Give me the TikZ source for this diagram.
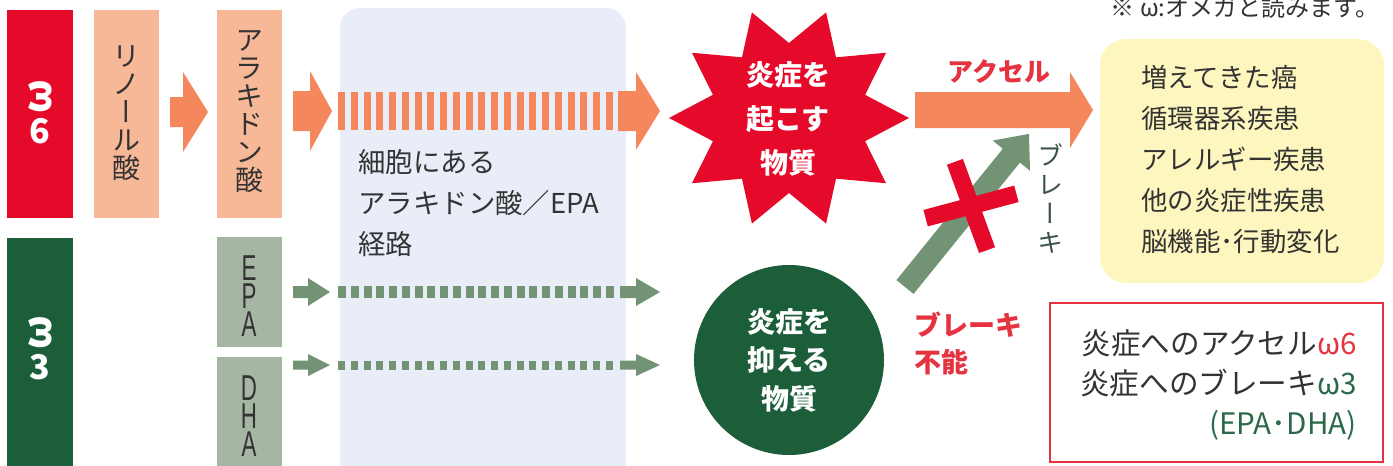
\documentclass[tikz,border=0pt]{standalone}
\usepackage{fontspec}
\setmainfont{Noto Sans CJK JP}
\newfontfamily\jpv[RawFeature=+vert]{Noto Sans CJK JP}
\newfontfamily\condsans[FakeStretch=0.62]{Liberation Sans}
\usetikzlibrary{shapes.geometric}
\definecolor{wred}{HTML}{E60A2A}
\definecolor{salmon}{HTML}{F7B898}
\definecolor{oarrow}{HTML}{F5875C}
\definecolor{dgreen}{HTML}{1D5E3A}
\definecolor{ggreen}{HTML}{A5B6A2}
\definecolor{garrow}{HTML}{729474}
\definecolor{lblue}{HTML}{E9EDF8}
\definecolor{pyellow}{HTML}{FDF7BF}
\definecolor{boxred}{HTML}{E5333F}
\definecolor{txt}{HTML}{333333}
\definecolor{tgreen}{HTML}{2B6A48}
\definecolor{vgreen}{HTML}{3C5446}
\newcommand\blockarrow[7]{%
  \fill[#1] (#2,{#5-#6}) -- (#3,{#5-#6}) -- (#3,{#5-#7}) -- (#4,#5) -- (#3,{#5+#7}) -- (#3,{#5+#6}) -- (#2,{#5+#6}) -- cycle;}
\newcommand\stripes[4]{%
  \foreach \i in {0,...,21} \fill[#1] ({338+\i*12.76},{#2-#3}) rectangle ++(#4,{2*#3});}
\tikzset{
  vtext/.style={text=txt, align=center, font=\jpv\fontsize{14}{14}\selectfont, inner sep=0pt},
  wbold/.style={text=white, align=center, inner sep=0pt},
  body/.style={text=txt, inner sep=0pt},
  letter/.style={text=txt, inner sep=0pt, font=\condsans\fontsize{18}{18}\selectfont},
}
\begin{document}
\begin{tikzpicture}[x=0.5pt,y=-0.5pt]
\useasboundingbox (0,0) rectangle (1393,466);
\clip (0,0) rectangle (1393,466);
% top note
\node[body, font=\fontsize{12}{12}\selectfont] (note) at (1245,7) {※ ω:オメガと読みます。};
% left bars
\fill[wred] (7,10) rectangle (73,218);
\fill[dgreen] (7,238) rectangle (73,480);
\node[wbold, font=\bfseries\fontsize{17}{17.5}\selectfont] (w6) at (40,112) {\rotatebox[origin=c]{90}{\scalebox{1.15}{ω}}\\6};
\node[wbold, font=\bfseries\fontsize{17}{17.5}\selectfont] (w3) at (40,348) {\rotatebox[origin=c]{90}{\scalebox{1.15}{ω}}\\3};
% acid boxes
\fill[salmon] (94,10) rectangle (159,218);
\fill[salmon] (217,10) rectangle (282,218);
\fill[ggreen] (217,237) rectangle (282,347);
\fill[ggreen] (217,357) rectangle (282,480);
\node[vtext] (la) at (126,113) {リ\\ノ\\ー\\ル\\酸};
\node[vtext] (aa) at (249,112) {ア\\ラ\\キ\\ド\\ン\\酸};
\node[letter] (epa1) at (249,268) {E};
\node[letter] (epa2) at (249,296) {P};
\node[letter] (epa3) at (249,324) {A};
\node[letter] (dha1) at (249,388) {D};
\node[letter] (dha2) at (249,416) {H};
\node[letter] (dha3) at (249,444) {A};
% arrow la -> aa
\blockarrow{oarrow}{170}{183}{208}{112}{15}{40}
% pathway box
\fill[lblue, rounded corners=10pt] (340,8) rectangle (626,490);
\node[body, anchor=west, align=left, font=\fontsize{13.7}{20.3}\selectfont] (path) at (358,203) {細胞にある\\アラキドン酸／EPA\\経路};
% omega6 arrow
\blockarrow{oarrow}{293}{310}{332}{111}{20}{40}
\stripes{oarrow}{111}{19}{7}
\blockarrow{oarrow}{618}{636}{660}{111}{20}{39}
% EPA arrow
\blockarrow{garrow}{293}{308}{330}{292}{6}{14}
\stripes{garrow}{292}{6}{8}
\blockarrow{garrow}{620}{636}{660}{292}{6}{14}
% DHA arrow
\blockarrow{garrow}{293}{308}{330}{365}{4.5}{11}
\stripes{garrow}{365}{4.5}{7}
\blockarrow{garrow}{620}{636}{660}{365}{4.5}{11}
% star
\fill[wred] (909,118) \foreach \k in {1,...,19} { -- ({789+(100+20*cos(\k*180))*cos(\k*18)},{118-(93+18*cos(\k*180))*sin(\k*18)}) } -- cycle;
\node[wbold, font=\bfseries\fontsize{14}{22}\selectfont] (inf) at (788,119) {炎症を\\起こす\\物質};
% circle
\node[circle, fill=dgreen, minimum size=95pt, inner sep=0pt, text=white, align=center, font=\bfseries\fontsize{14}{19.25}\selectfont] (sup) at (789,360) {炎症を\\抑える\\物質};
% accel arrow
\blockarrow{oarrow}{915}{1070}{1093}{110}{18}{38}
\node[text=boxred, inner sep=0pt, font=\bfseries\fontsize{13}{13}\selectfont] (acc) at (999,72) {アクセル};
% brake arrow
\begin{scope}[shift={(905,287)},rotate=51]
\fill[garrow] (0,-11) -- (169,-11) -- (169,-24) -- (197,0) -- (169,24) -- (169,11) -- (0,11) -- cycle;
\end{scope}
\begin{scope}[shift={(971,206)},rotate=15]
\fill[wred] (-47,-8.5) rectangle (47,8.5);
\end{scope}
\begin{scope}[shift={(971,206)},rotate=110]
\fill[wred] (-47,-8.5) rectangle (47,8.5);
\end{scope}
\node[vtext, text=vgreen, font=\jpv\fontsize{13}{14.5}\selectfont] (brk) at (1050,198) {ブ\\レ\\ー\\キ};
\node[text=boxred, anchor=west, align=left, inner sep=0pt, font=\bfseries\fontsize{13.5}{18.5}\selectfont] (nobrk) at (914,343) {ブレーキ\\不能};
% diseases box
\fill[pyellow, rounded corners=13pt] (1100,39) rectangle (1384,283);
\node[body, anchor=west, align=left, font=\fontsize{13.2}{20.5}\selectfont] (dis) at (1141,160) {増えてきた癌\\循環器系疾患\\アレルギー疾患\\他の炎症性疾患\\脳機能･行動変化};
% summary box
\draw[boxred, line width=1.25pt] (1050,303) rectangle (1383,462);
\node[body, anchor=east, align=right, font=\fontsize{14.8}{20}\selectfont] (sum) at (1357,385) {炎症へのアクセル\textcolor{boxred}{ω6}\\炎症へのブレーキ\textcolor{tgreen}{ω3}\\\textcolor{tgreen}{(EPA･DHA)}};
\end{tikzpicture}
\end{document}
